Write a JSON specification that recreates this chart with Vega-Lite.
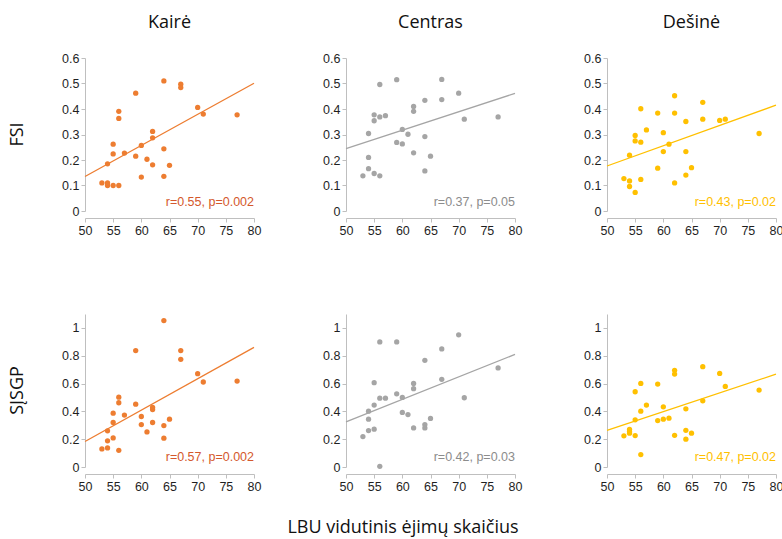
{
  "$schema": "https://vega.github.io/schema/vega-lite/v6.json",
  "padding": {"left": 9, "top": 14, "right": 5, "bottom": 5},
  "background": "white",
  "title": {"text": "LBU vidutinis ėjimų skaičius", "orient": "bottom", "anchor": "middle", "font": "Open Sans", "fontSize": 18, "fontWeight": "normal", "color": "#111111", "offset": 26, "dx": 7},
  "datasets": {
    "d": [
      {"side":"Kairė","measure":"FSI","x":53,"y":0.11},{"side":"Kairė","measure":"FSI","x":54,"y":0.10},{"side":"Kairė","measure":"FSI","x":54,"y":0.11},{"side":"Kairė","measure":"FSI","x":54,"y":0.185},{"side":"Kairė","measure":"FSI","x":55,"y":0.10},{"side":"Kairė","measure":"FSI","x":55,"y":0.224},{"side":"Kairė","measure":"FSI","x":55,"y":0.262},{"side":"Kairė","measure":"FSI","x":56,"y":0.10},{"side":"Kairė","measure":"FSI","x":56,"y":0.363},{"side":"Kairė","measure":"FSI","x":56,"y":0.391},{"side":"Kairė","measure":"FSI","x":57,"y":0.227},{"side":"Kairė","measure":"FSI","x":59,"y":0.215},{"side":"Kairė","measure":"FSI","x":59,"y":0.462},{"side":"Kairė","measure":"FSI","x":60,"y":0.133},{"side":"Kairė","measure":"FSI","x":60,"y":0.257},{"side":"Kairė","measure":"FSI","x":61,"y":0.203},{"side":"Kairė","measure":"FSI","x":62,"y":0.181},{"side":"Kairė","measure":"FSI","x":62,"y":0.287},{"side":"Kairė","measure":"FSI","x":62,"y":0.312},{"side":"Kairė","measure":"FSI","x":64,"y":0.136},{"side":"Kairė","measure":"FSI","x":64,"y":0.244},{"side":"Kairė","measure":"FSI","x":64,"y":0.51},{"side":"Kairė","measure":"FSI","x":65,"y":0.179},{"side":"Kairė","measure":"FSI","x":67,"y":0.497},{"side":"Kairė","measure":"FSI","x":67,"y":0.484},{"side":"Kairė","measure":"FSI","x":70,"y":0.406},{"side":"Kairė","measure":"FSI","x":71,"y":0.38},{"side":"Kairė","measure":"FSI","x":77,"y":0.377},
      {"side":"Centras","measure":"FSI","x":53,"y":0.138},{"side":"Centras","measure":"FSI","x":54,"y":0.166},{"side":"Centras","measure":"FSI","x":54,"y":0.21},{"side":"Centras","measure":"FSI","x":54,"y":0.304},{"side":"Centras","measure":"FSI","x":55,"y":0.147},{"side":"Centras","measure":"FSI","x":55,"y":0.354},{"side":"Centras","measure":"FSI","x":55,"y":0.377},{"side":"Centras","measure":"FSI","x":56,"y":0.138},{"side":"Centras","measure":"FSI","x":56,"y":0.369},{"side":"Centras","measure":"FSI","x":56,"y":0.496},{"side":"Centras","measure":"FSI","x":57,"y":0.374},{"side":"Centras","measure":"FSI","x":59,"y":0.269},{"side":"Centras","measure":"FSI","x":59,"y":0.515},{"side":"Centras","measure":"FSI","x":60,"y":0.263},{"side":"Centras","measure":"FSI","x":60,"y":0.32},{"side":"Centras","measure":"FSI","x":61,"y":0.301},{"side":"Centras","measure":"FSI","x":62,"y":0.228},{"side":"Centras","measure":"FSI","x":62,"y":0.391},{"side":"Centras","measure":"FSI","x":62,"y":0.41},{"side":"Centras","measure":"FSI","x":64,"y":0.157},{"side":"Centras","measure":"FSI","x":64,"y":0.292},{"side":"Centras","measure":"FSI","x":64,"y":0.434},{"side":"Centras","measure":"FSI","x":65,"y":0.215},{"side":"Centras","measure":"FSI","x":67,"y":0.437},{"side":"Centras","measure":"FSI","x":67,"y":0.516},{"side":"Centras","measure":"FSI","x":70,"y":0.462},{"side":"Centras","measure":"FSI","x":71,"y":0.36},{"side":"Centras","measure":"FSI","x":77,"y":0.369},
      {"side":"Dešinė","measure":"FSI","x":53,"y":0.127},{"side":"Dešinė","measure":"FSI","x":54,"y":0.118},{"side":"Dešinė","measure":"FSI","x":54,"y":0.096},{"side":"Dešinė","measure":"FSI","x":54,"y":0.219},{"side":"Dešinė","measure":"FSI","x":55,"y":0.073},{"side":"Dešinė","measure":"FSI","x":55,"y":0.275},{"side":"Dešinė","measure":"FSI","x":55,"y":0.296},{"side":"Dešinė","measure":"FSI","x":56,"y":0.124},{"side":"Dešinė","measure":"FSI","x":56,"y":0.27},{"side":"Dešinė","measure":"FSI","x":56,"y":0.401},{"side":"Dešinė","measure":"FSI","x":57,"y":0.318},{"side":"Dešinė","measure":"FSI","x":59,"y":0.168},{"side":"Dešinė","measure":"FSI","x":59,"y":0.384},{"side":"Dešinė","measure":"FSI","x":60,"y":0.233},{"side":"Dešinė","measure":"FSI","x":60,"y":0.307},{"side":"Dešinė","measure":"FSI","x":61,"y":0.262},{"side":"Dešinė","measure":"FSI","x":62,"y":0.11},{"side":"Dešinė","measure":"FSI","x":62,"y":0.384},{"side":"Dešinė","measure":"FSI","x":62,"y":0.452},{"side":"Dešinė","measure":"FSI","x":64,"y":0.141},{"side":"Dešinė","measure":"FSI","x":64,"y":0.233},{"side":"Dešinė","measure":"FSI","x":64,"y":0.351},{"side":"Dešinė","measure":"FSI","x":65,"y":0.17},{"side":"Dešinė","measure":"FSI","x":67,"y":0.36},{"side":"Dešinė","measure":"FSI","x":67,"y":0.426},{"side":"Dešinė","measure":"FSI","x":70,"y":0.355},{"side":"Dešinė","measure":"FSI","x":71,"y":0.36},{"side":"Dešinė","measure":"FSI","x":77,"y":0.304},
      {"side":"Kairė","measure":"SĮSGP","x":53,"y":0.13},{"side":"Kairė","measure":"SĮSGP","x":54,"y":0.137},{"side":"Kairė","measure":"SĮSGP","x":54,"y":0.188},{"side":"Kairė","measure":"SĮSGP","x":54,"y":0.26},{"side":"Kairė","measure":"SĮSGP","x":55,"y":0.209},{"side":"Kairė","measure":"SĮSGP","x":55,"y":0.32},{"side":"Kairė","measure":"SĮSGP","x":55,"y":0.387},{"side":"Kairė","measure":"SĮSGP","x":56,"y":0.12},{"side":"Kairė","measure":"SĮSGP","x":56,"y":0.462},{"side":"Kairė","measure":"SĮSGP","x":56,"y":0.502},{"side":"Kairė","measure":"SĮSGP","x":57,"y":0.373},{"side":"Kairė","measure":"SĮSGP","x":59,"y":0.452},{"side":"Kairė","measure":"SĮSGP","x":59,"y":0.837},{"side":"Kairė","measure":"SĮSGP","x":60,"y":0.305},{"side":"Kairė","measure":"SĮSGP","x":60,"y":0.363},{"side":"Kairė","measure":"SĮSGP","x":61,"y":0.252},{"side":"Kairė","measure":"SĮSGP","x":62,"y":0.32},{"side":"Kairė","measure":"SĮSGP","x":62,"y":0.413},{"side":"Kairė","measure":"SĮSGP","x":62,"y":0.428},{"side":"Kairė","measure":"SĮSGP","x":64,"y":0.207},{"side":"Kairė","measure":"SĮSGP","x":64,"y":0.298},{"side":"Kairė","measure":"SĮSGP","x":64,"y":1.053},{"side":"Kairė","measure":"SĮSGP","x":65,"y":0.344},{"side":"Kairė","measure":"SĮSGP","x":67,"y":0.774},{"side":"Kairė","measure":"SĮSGP","x":67,"y":0.837},{"side":"Kairė","measure":"SĮSGP","x":70,"y":0.671},{"side":"Kairė","measure":"SĮSGP","x":71,"y":0.611},{"side":"Kairė","measure":"SĮSGP","x":77,"y":0.618},
      {"side":"Centras","measure":"SĮSGP","x":53,"y":0.219},{"side":"Centras","measure":"SĮSGP","x":54,"y":0.262},{"side":"Centras","measure":"SĮSGP","x":54,"y":0.344},{"side":"Centras","measure":"SĮSGP","x":54,"y":0.401},{"side":"Centras","measure":"SĮSGP","x":55,"y":0.272},{"side":"Centras","measure":"SĮSGP","x":55,"y":0.445},{"side":"Centras","measure":"SĮSGP","x":55,"y":0.606},{"side":"Centras","measure":"SĮSGP","x":56,"y":0.005},{"side":"Centras","measure":"SĮSGP","x":56,"y":0.495},{"side":"Centras","measure":"SĮSGP","x":56,"y":0.899},{"side":"Centras","measure":"SĮSGP","x":57,"y":0.495},{"side":"Centras","measure":"SĮSGP","x":59,"y":0.526},{"side":"Centras","measure":"SĮSGP","x":59,"y":0.899},{"side":"Centras","measure":"SĮSGP","x":60,"y":0.392},{"side":"Centras","measure":"SĮSGP","x":60,"y":0.5},{"side":"Centras","measure":"SĮSGP","x":61,"y":0.377},{"side":"Centras","measure":"SĮSGP","x":62,"y":0.281},{"side":"Centras","measure":"SĮSGP","x":62,"y":0.563},{"side":"Centras","measure":"SĮSGP","x":62,"y":0.601},{"side":"Centras","measure":"SĮSGP","x":64,"y":0.281},{"side":"Centras","measure":"SĮSGP","x":64,"y":0.305},{"side":"Centras","measure":"SĮSGP","x":64,"y":0.767},{"side":"Centras","measure":"SĮSGP","x":65,"y":0.349},{"side":"Centras","measure":"SĮSGP","x":67,"y":0.63},{"side":"Centras","measure":"SĮSGP","x":67,"y":0.849},{"side":"Centras","measure":"SĮSGP","x":70,"y":0.95},{"side":"Centras","measure":"SĮSGP","x":71,"y":0.498},{"side":"Centras","measure":"SĮSGP","x":77,"y":0.712},
      {"side":"Dešinė","measure":"SĮSGP","x":53,"y":0.224},{"side":"Dešinė","measure":"SĮSGP","x":54,"y":0.27},{"side":"Dešinė","measure":"SĮSGP","x":54,"y":0.255},{"side":"Dešinė","measure":"SĮSGP","x":54,"y":0.243},{"side":"Dešinė","measure":"SĮSGP","x":55,"y":0.226},{"side":"Dešinė","measure":"SĮSGP","x":55,"y":0.339},{"side":"Dešinė","measure":"SĮSGP","x":55,"y":0.541},{"side":"Dešinė","measure":"SĮSGP","x":56,"y":0.089},{"side":"Dešinė","measure":"SĮSGP","x":56,"y":0.401},{"side":"Dešinė","measure":"SĮSGP","x":56,"y":0.601},{"side":"Dešinė","measure":"SĮSGP","x":57,"y":0.445},{"side":"Dešinė","measure":"SĮSGP","x":59,"y":0.334},{"side":"Dešinė","measure":"SĮSGP","x":59,"y":0.596},{"side":"Dešinė","measure":"SĮSGP","x":60,"y":0.344},{"side":"Dešinė","measure":"SĮSGP","x":60,"y":0.433},{"side":"Dešinė","measure":"SĮSGP","x":61,"y":0.351},{"side":"Dešinė","measure":"SĮSGP","x":62,"y":0.228},{"side":"Dešinė","measure":"SĮSGP","x":62,"y":0.668},{"side":"Dešinė","measure":"SĮSGP","x":62,"y":0.695},{"side":"Dešinė","measure":"SĮSGP","x":64,"y":0.2},{"side":"Dešinė","measure":"SĮSGP","x":64,"y":0.264},{"side":"Dešinė","measure":"SĮSGP","x":64,"y":0.418},{"side":"Dešinė","measure":"SĮSGP","x":65,"y":0.243},{"side":"Dešinė","measure":"SĮSGP","x":67,"y":0.476},{"side":"Dešinė","measure":"SĮSGP","x":67,"y":0.721},{"side":"Dešinė","measure":"SĮSGP","x":70,"y":0.673},{"side":"Dešinė","measure":"SĮSGP","x":71,"y":0.579},{"side":"Dešinė","measure":"SĮSGP","x":77,"y":0.553},
      {"side":"Kairė","measure":"FSI","note":"r=0.55, p=0.002"},
      {"side":"Centras","measure":"FSI","note":"r=0.37, p=0.05"},
      {"side":"Dešinė","measure":"FSI","note":"r=0.43, p=0.02"},
      {"side":"Kairė","measure":"SĮSGP","note":"r=0.57, p=0.002"},
      {"side":"Centras","measure":"SĮSGP","note":"r=0.42, p=0.03"},
      {"side":"Dešinė","measure":"SĮSGP","note":"r=0.47, p=0.02"}
    ]
  },
  "data": {"name": "d"},
  "config": {
    "view": {"stroke": null},
    "axis": {
      "grid": false,
      "domainColor": "#bfbfbf",
      "tickColor": "#bfbfbf",
      "tickSize": 4,
      "labelFont": "Liberation Sans",
      "labelFontSize": 12.5,
      "labelColor": "#1f1f1f",
      "labelPadding": 2,
      "labelOverlap": false,
      "labelFlush": false,
      "format": "~g"
    },
    "header": {
      "labelFont": "Open Sans",
      "labelFontSize": 18,
      "labelColor": "#111111"
    },
    "facet": {"spacing": 65}
  },
  "spacing": 77,
  "vconcat": [
    {
      "transform": [{"filter": "datum.measure === 'FSI'"}],
      "facet": {
        "row": {"field": "measure", "header": {"title": null, "labelAngle": -90, "labelPadding": 25}},
        "column": {"field": "side", "sort": ["Kairė", "Centras", "Dešinė"], "header": {"title": null, "labelPadding": 20}}
      },
      "resolve": {"axis": {"y": "independent"}},
      "spec": {
        "width": 169,
        "height": 153,
        "resolve": {"scale": {"color": "independent"}},
        "layer": [
          {
            "transform": [{"filter": "isValid(datum.x)"}],
            "mark": {"type": "point", "filled": true, "opacity": 1, "size": 28},
            "encoding": {
              "x": {"field": "x", "type": "quantitative", "scale": {"domain": [50, 80], "nice": false, "zero": false}, "axis": {"values": [50,55,60,65,70,75,80], "tickCount": 7, "labelOverlap": false, "labelFlush": false, "format": "~g", "title": null}},
              "y": {"field": "y", "type": "quantitative", "scale": {"domain": [0, 0.6], "nice": false}, "axis": {"values": [0,0.1,0.2,0.3,0.4,0.5,0.6], "tickCount": 7, "labelOverlap": false, "labelFlush": false, "format": "~g", "title": null}},
              "color": {"field": "side", "type": "nominal", "scale": {"domain": ["Kairė", "Centras", "Dešinė"], "range": ["#ED7D31", "#A5A5A5", "#FFC000"]}, "legend": null}
            }
          },
          {
            "transform": [{"filter": "isValid(datum.x)"}, {"regression": "y", "on": "x", "groupby": ["side", "measure"], "extent": [50, 80]}],
            "mark": {"type": "line", "strokeWidth": 1.3},
            "encoding": {
              "x": {"field": "x", "type": "quantitative"},
              "y": {"field": "y", "type": "quantitative"},
              "color": {"field": "side", "type": "nominal", "scale": {"domain": ["Kairė", "Centras", "Dešinė"], "range": ["#ED7D31", "#A5A5A5", "#FFC000"]}, "legend": null}
            }
          },
          {
            "transform": [{"filter": "isValid(datum.note)"}],
            "mark": {"type": "text", "align": "right", "baseline": "alphabetic", "font": "Liberation Sans", "fontSize": 12.5},
            "encoding": {
              "x": {"datum": 80},
              "y": {"datum": 0.02},
              "text": {"field": "note"},
              "color": {"field": "side", "type": "nominal", "scale": {"domain": ["Kairė", "Centras", "Dešinė"], "range": ["#D4582C", "#8C8C8C", "#FFC000"]}, "legend": null}
            }
          }
        ]
      }
    },
    {
      "transform": [{"filter": "datum.measure === 'SĮSGP'"}],
      "facet": {
        "row": {"field": "measure", "header": {"title": null, "labelAngle": -90, "labelPadding": 25}},
        "column": {"field": "side", "sort": ["Kairė", "Centras", "Dešinė"], "header": {"title": null, "labels": false}}
      },
      "resolve": {"axis": {"y": "independent"}},
      "spec": {
        "width": 169,
        "height": 153,
        "resolve": {"scale": {"color": "independent"}},
        "layer": [
          {
            "transform": [{"filter": "isValid(datum.x)"}],
            "mark": {"type": "point", "filled": true, "opacity": 1, "size": 28},
            "encoding": {
              "x": {"field": "x", "type": "quantitative", "scale": {"domain": [50, 80], "nice": false, "zero": false}, "axis": {"values": [50,55,60,65,70,75,80], "tickCount": 7, "labelOverlap": false, "labelFlush": false, "format": "~g", "title": null}},
              "y": {"field": "y", "type": "quantitative", "scale": {"domain": [0, 1.1], "nice": false}, "axis": {"values": [0,0.2,0.4,0.6,0.8,1], "tickCount": 6, "labelOverlap": false, "labelFlush": false, "format": "~g", "title": null}},
              "color": {"field": "side", "type": "nominal", "scale": {"domain": ["Kairė", "Centras", "Dešinė"], "range": ["#ED7D31", "#A5A5A5", "#FFC000"]}, "legend": null}
            }
          },
          {
            "transform": [{"filter": "isValid(datum.x)"}, {"regression": "y", "on": "x", "groupby": ["side", "measure"], "extent": [50, 80]}],
            "mark": {"type": "line", "strokeWidth": 1.3},
            "encoding": {
              "x": {"field": "x", "type": "quantitative"},
              "y": {"field": "y", "type": "quantitative"},
              "color": {"field": "side", "type": "nominal", "scale": {"domain": ["Kairė", "Centras", "Dešinė"], "range": ["#ED7D31", "#A5A5A5", "#FFC000"]}, "legend": null}
            }
          },
          {
            "transform": [{"filter": "isValid(datum.note)"}],
            "mark": {"type": "text", "align": "right", "baseline": "alphabetic", "font": "Liberation Sans", "fontSize": 12.5},
            "encoding": {
              "x": {"datum": 80},
              "y": {"datum": 0.04},
              "text": {"field": "note"},
              "color": {"field": "side", "type": "nominal", "scale": {"domain": ["Kairė", "Centras", "Dešinė"], "range": ["#D4582C", "#8C8C8C", "#FFC000"]}, "legend": null}
            }
          }
        ]
      }
    }
  ]
}
